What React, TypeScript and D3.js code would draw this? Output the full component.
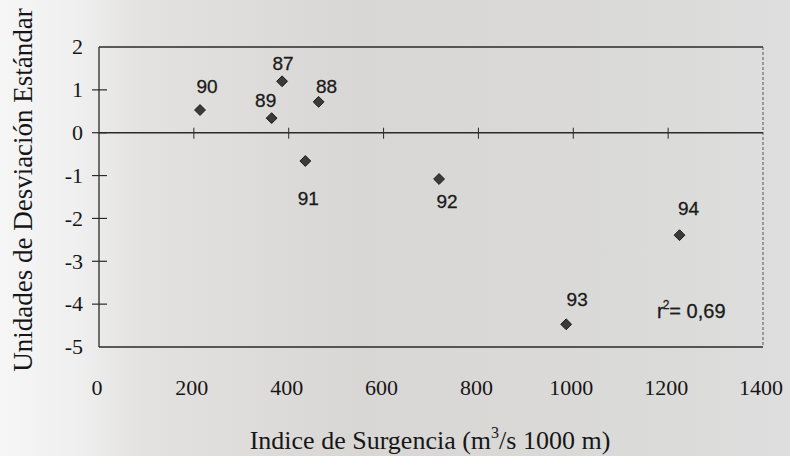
import React, { useRef, useEffect } from 'react';
import * as d3 from 'd3';

// upwelling index vs standardized units, by year
const years = ['87', '88', '89', '90', '91', '92', '93', '94'];
const surgencia = [386, 463, 364, 213, 435, 717, 985, 1224];
const desviacion = [1.2, 0.72, 0.34, 0.53, -0.66, -1.08, -4.47, -2.39];
const xTicks = [0, 200, 400, 600, 800, 1000, 1200, 1400];
const yTicks = [2, 1, 0, -1, -2, -3, -4, -5];

// label offsets relative to each point (layout only)
const labelOffsets: Record<string, [number, number]> = {
  '87': [1, -11],
  '88': [8, -9],
  '89': [-6, -11],
  '90': [7, -17],
  '91': [3, 44],
  '92': [8, 29],
  '93': [11, -18],
  '94': [9, -20],
};

const W = 790;
const H = 456;
const serif = '"Liberation Serif", "Times New Roman", serif';
const sans = '"Liberation Sans", Arial, sans-serif';

const App = () => {
  const svgRef = useRef<SVGSVGElement>(null);

  useEffect(() => {
    const svg = d3.select(svgRef.current);
    svg.selectAll('*').remove();

    const left = 99, right = 763, top = 47, bottom = 347;

    const x = d3.scaleLinear().domain([0, 1400]).range([left, right]);
    const y = d3.scaleLinear().domain([-5, 2]).range([bottom, top]);

    // scanned paper background
    const defs = svg.append('defs');
    const grad = defs.append('linearGradient').attr('id', 'paper')
      .attr('x1', 0).attr('x2', 1).attr('y1', 0).attr('y2', 0);
    grad.append('stop').attr('offset', '0%').attr('stop-color', '#f6f6f6');
    grad.append('stop').attr('offset', '10%').attr('stop-color', '#efefef');
    grad.append('stop').attr('offset', '18%').attr('stop-color', '#e3e2e1');
    grad.append('stop').attr('offset', '45%').attr('stop-color', '#d9d7d6');
    grad.append('stop').attr('offset', '80%').attr('stop-color', '#dadad9');
    grad.append('stop').attr('offset', '100%').attr('stop-color', '#dedede');
    svg.append('rect').attr('width', W).attr('height', H).attr('fill', 'url(#paper)');

    const ink = '#2a2a2a';

    // frame
    svg.append('line').attr('x1', left).attr('x2', right).attr('y1', top).attr('y2', top)
      .attr('stroke', ink).attr('stroke-width', 1.3);
    svg.append('line').attr('x1', left).attr('x2', right).attr('y1', bottom).attr('y2', bottom)
      .attr('stroke', ink).attr('stroke-width', 1.4);
    svg.append('line').attr('x1', right).attr('x2', right).attr('y1', top).attr('y2', bottom)
      .attr('stroke', '#555').attr('stroke-width', 1).attr('stroke-dasharray', '3,2');
    svg.append('line').attr('x1', left).attr('x2', left).attr('y1', top).attr('y2', bottom)
      .attr('stroke', ink).attr('stroke-width', 1.3);

    // zero line with x ticks
    svg.append('line').attr('x1', left).attr('x2', right).attr('y1', y(0)).attr('y2', y(0))
      .attr('stroke', ink).attr('stroke-width', 1.4);
    svg.append('g').selectAll('line')
      .data(xTicks.filter(d => d > 0 && d < 1400))
      .enter().append('line')
      .attr('x1', d => x(d)).attr('x2', d => x(d))
      .attr('y1', y(0) - 5).attr('y2', y(0) + 6)
      .attr('stroke', ink).attr('stroke-width', 1);

    // y ticks (cross the axis)
    svg.append('g').selectAll('line')
      .data(yTicks.filter(d => d < 2 && d > -5))
      .enter().append('line')
      .attr('x1', left - 7).attr('x2', left + 8)
      .attr('y1', d => y(d)).attr('y2', d => y(d))
      .attr('stroke', ink).attr('stroke-width', 1.2);

    // tick labels
    svg.append('g')
      .attr('font-family', serif)
      .attr('font-size', 22)
      .attr('fill', '#161616')
      .attr('text-anchor', 'end')
      .selectAll('text')
      .data(yTicks)
      .enter().append('text')
      .attr('x', 83)
      .attr('y', d => y(d))
      .attr('dy', '0.33em')
      .text(d => d);

    svg.append('g')
      .attr('font-family', serif)
      .attr('font-size', 22)
      .attr('fill', '#161616')
      .attr('text-anchor', 'middle')
      .selectAll('text')
      .data(xTicks)
      .enter().append('text')
      .attr('x', d => x(d) - 2)
      .attr('y', 395)
      .text(d => d);

    // axis titles
    svg.append('text')
      .attr('transform', `translate(32,${190}) rotate(-90)`)
      .attr('font-family', serif)
      .attr('font-size', 27)
      .attr('fill', '#161616')
      .attr('text-anchor', 'middle')
      .text('Unidades de Desviación Estándar');

    const xt = svg.append('text')
      .attr('x', 430).attr('y', 449)
      .attr('font-family', serif)
      .attr('font-size', 26)
      .attr('fill', '#161616')
      .attr('text-anchor', 'middle');
    xt.append('tspan').text('Indice de Surgencia (m');
    xt.append('tspan').attr('font-size', 16).attr('dy', -11).text('3');
    xt.append('tspan').attr('dy', 11).text('/s 1000 m)');

    // points
    const pts = years.map((yr, i) => ({ yr, sx: surgencia[i], sy: desviacion[i] }));
    const diamond = d3.symbol().type(d3.symbolDiamond2).size(75);
    svg.append('g').selectAll('path')
      .data(pts)
      .enter().append('path')
      .attr('d', diamond)
      .attr('transform', d => `translate(${x(d.sx)},${y(d.sy)})`)
      .attr('fill', '#3a3a3a')
      .attr('stroke', '#1e1e1e')
      .attr('stroke-width', 1);

    svg.append('g')
      .attr('font-family', sans)
      .attr('font-size', 19)
      .attr('fill', '#1a1a1a')
      .attr('stroke', '#1a1a1a')
      .attr('stroke-width', 0.3)
      .attr('text-anchor', 'middle')
      .selectAll('text')
      .data(pts)
      .enter().append('text')
      .attr('x', d => x(d.sx) + labelOffsets[d.yr][0])
      .attr('y', d => y(d.sy) + labelOffsets[d.yr][1])
      .text(d => d.yr);

    // r squared
    const rt = svg.append('text')
      .attr('x', 657).attr('y', 318)
      .attr('font-family', sans)
      .attr('font-size', 20)
      .attr('fill', '#1a1a1a')
      .attr('stroke', '#1a1a1a')
      .attr('stroke-width', 0.3);
    rt.append('tspan').text('r');
    rt.append('tspan').attr('font-size', 12).attr('dy', -9).attr('dx', -1).text('2');
    rt.append('tspan').attr('dy', 9).text('= 0,69');
  }, []);

  return (
    <svg ref={svgRef} width={W} height={H} style={{ position: 'absolute', left: 0, top: 0 }} />
  );
};

export default App;
